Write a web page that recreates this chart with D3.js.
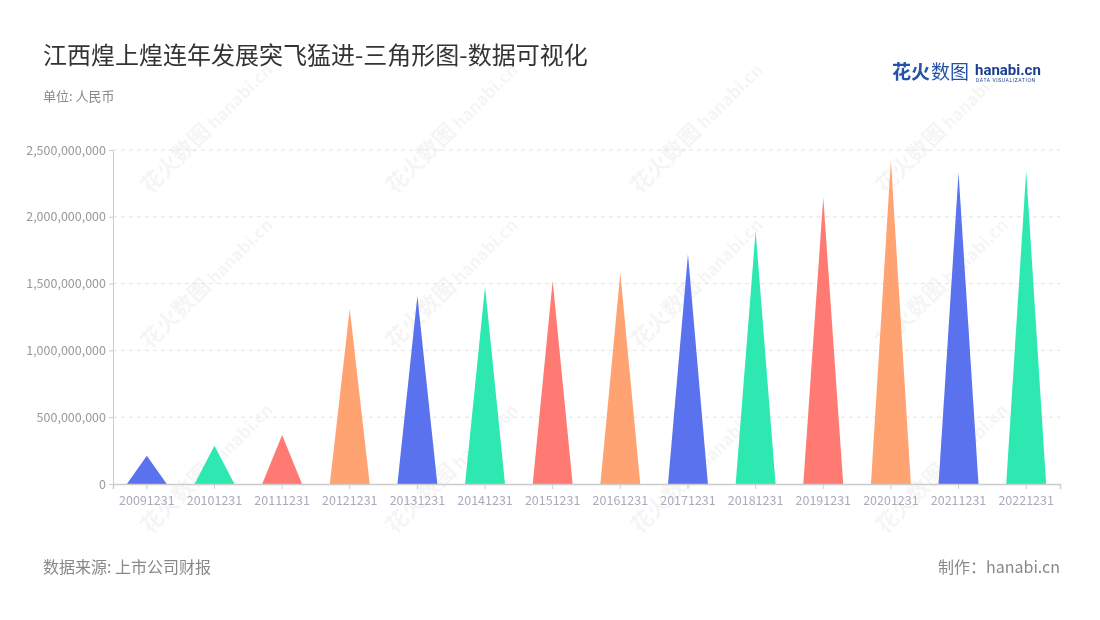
<!DOCTYPE html>
<html><head><meta charset="utf-8">
<script src="https://cdn.jsdelivr.net/npm/d3@7"></script>
<style>body{margin:0;background:#fff;font-family:"Noto Sans CJK SC","Noto Sans",sans-serif}</style>
</head><body><svg id="c" width="1100" height="620"></svg>
<script>
const categories = ["20091231","20101231","20111231","20121231","20131231","20141231","20151231","20161231","20171231","20181231","20191231","20201231","20211231","20221231"];
const values = [211000000,286000000,366000000,1310000000,1407000000,1477000000,1522000000,1582000000,1719000000,1893000000,2145000000,2424000000,2329000000,2342000000];
const yTicks = [0,500000000,1000000000,1500000000,2000000000,2500000000];
const palette = ["#5a72ee","#2ee8b2","#ff7a72","#ffa372"];

const svg = d3.select("#c");
const m = {l:113, r:1060, t:150, b:484};
const x = d3.scaleBand().domain(categories).range([m.l, m.r]);
const y = d3.scaleLinear().domain([0,2500000000]).range([m.b, m.t]);

// watermarks
const wm = svg.append("g").attr("fill","#000").attr("opacity",0.04).attr("font-weight","bold");
[[150,195],[395,195],[640,195],[885,195],[150,350],[395,350],[640,350],[885,350],[150,535],[395,535],[640,535],[885,535]].forEach(([px,py])=>{
  const g = wm.append("g").attr("transform",`translate(${px},${py}) rotate(-45)`);
  g.append("text").attr("font-size",22).text("花火数图");
  g.append("text").attr("x",92).attr("font-size",17).text("hanabi.cn");
});

// grid
svg.append("g").selectAll("line").data(yTicks.slice(1)).join("line")
  .attr("x1",m.l).attr("x2",m.r).attr("y1",d=>y(d)).attr("y2",d=>y(d))
  .attr("stroke","#e3e3e3").attr("stroke-dasharray","4,4");

// y axis
const ya = svg.append("g").attr("transform",`translate(${m.l},0)`)
  .call(d3.axisLeft(y).tickValues(yTicks).tickSize(4).tickPadding(3).tickFormat(d3.format(",")));
ya.select(".domain").attr("stroke","#ccc");
ya.selectAll(".tick line").attr("stroke","#ccc");
ya.selectAll("text").attr("fill","#999").attr("font-size",12.5).attr("font-family","'Noto Sans CJK SC',sans-serif");

// triangles
const tw = x.bandwidth()*0.59;
svg.append("g").selectAll("path").data(categories).join("path")
  .attr("d",(c,i)=>{const cx=x(c)+x.bandwidth()/2;return `M${cx-tw/2},${y(0)}L${cx},${y(values[i])}L${cx+tw/2},${y(0)}Z`;})
  .attr("fill",(c,i)=>palette[i%4]);

// x axis
const xa = svg.append("g").attr("transform",`translate(0,${m.b})`)
  .call(d3.axisBottom(x).tickSize(5).tickPadding(7));
xa.select(".domain").attr("stroke","#ccc").attr("stroke-width",1.5);
xa.selectAll(".tick line").attr("stroke","#ccc");
xa.selectAll("text").attr("fill","#aab").attr("font-size",12.5).attr("font-family","'Noto Sans CJK SC',sans-serif");

// titles
svg.append("text").attr("x",43).attr("y",64).attr("font-size",24).attr("fill","#333").text("江西煌上煌连年发展突飞猛进-三角形图-数据可视化");
svg.append("text").attr("x",43).attr("y",101).attr("font-size",13).attr("fill","#888").text("单位: 人民币");
svg.append("text").attr("x",43).attr("y",573).attr("font-size",16).attr("fill","#888").text("数据来源: 上市公司财报");
svg.append("text").attr("x",1060).attr("y",573).attr("font-size",16).attr("fill","#888").attr("text-anchor","end").text("制作：hanabi.cn");

// logo
const lg = svg.append("g");
lg.append("text").attr("x",892).attr("y",79).attr("font-size",19).attr("font-weight","bold").attr("fill","#2452a8").text("花火");
lg.append("text").attr("x",931).attr("y",79).attr("font-size",19).attr("fill","#2452a8").text("数图");
lg.append("text").attr("x",975).attr("y",75).attr("font-size",15).attr("font-weight","bold").attr("fill","#1d3f8f").attr("font-family","Roboto,sans-serif").text("hanabi.cn");
lg.append("text").attr("x",976).attr("y",82).attr("font-size",5).attr("fill","#1d3f8f").attr("font-family","Roboto,sans-serif").attr("letter-spacing",0.6).text("DATA VISUALIZATION");
</script></body></html>
